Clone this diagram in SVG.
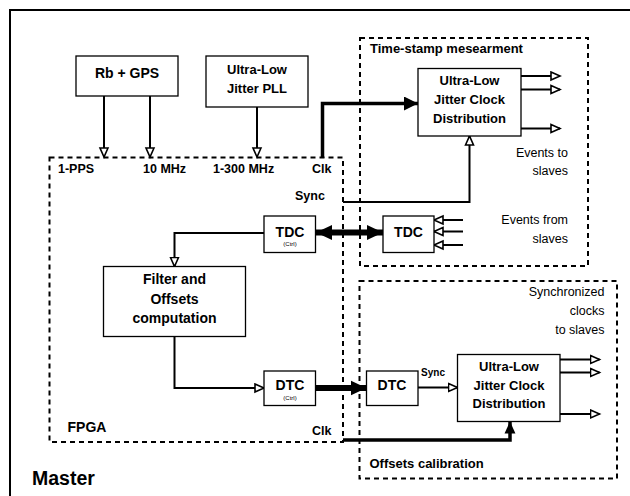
<svg xmlns="http://www.w3.org/2000/svg" width="630" height="496" viewBox="0 0 630 496">
  <style>
    .box { fill: #fff; stroke: #000; stroke-width: 1.3; }
    .zone { fill: none; stroke: #000; stroke-width: 2; stroke-dasharray: 5 4; }
    .wire { fill: none; stroke: #000; stroke-width: 2; }
    .thick { fill: none; stroke: #000; stroke-width: 3.5; }
    .bus { fill: none; stroke: #000; stroke-width: 6; }
    text { font-family: "Liberation Sans", Arial, Helvetica, sans-serif; fill: #000; }
    .b { font-weight: bold; }
    .c { text-anchor: middle; }
    .r { text-anchor: end; }
    .t13 { font-size: 13px; }
    .t14 { font-size: 14px; }
    .lbl { font-size: 12.5px; }
    .tiny { font-size: 6px; }
  </style>
  <defs>
    <marker id="open" markerUnits="userSpaceOnUse" markerWidth="12" markerHeight="12" viewBox="-1 -1 12 11" refX="9" refY="4" orient="auto">
      <path d="M0,0 L9,4 L0,8 Z" fill="#fff" stroke="#000" stroke-width="1.6"/>
    </marker>
    <marker id="solid" markerUnits="userSpaceOnUse" markerWidth="14" markerHeight="14" viewBox="0 0 12 12" refX="12" refY="6" orient="auto">
      <path d="M0,0 L12,6 L0,12 Z" fill="#000"/>
    </marker>
    <marker id="solidSmall" markerUnits="userSpaceOnUse" markerWidth="12" markerHeight="12" viewBox="0 0 11 10" refX="11" refY="5" orient="auto">
      <path d="M0,0 L11,5 L0,10 Z" fill="#000"/>
    </marker>
    <marker id="bigHead" markerUnits="userSpaceOnUse" markerWidth="16" markerHeight="16" viewBox="0 0 14 13" refX="14" refY="6.5" orient="auto-start-reverse">
      <path d="M0,0 L14,6.5 L0,13 Z" fill="#000"/>
    </marker>
  </defs>

  <!-- outer frame (only top and left edges fall inside the canvas) -->
  <path d="M10,520 V10 H640" fill="none" stroke="#000" stroke-width="2"/>

  <!-- dashed regions -->
  <g id="fpga">
    <rect class="zone" x="49.5" y="157.5" width="293.5" height="284.5"/>
    <text class="b lbl" x="58" y="173">1-PPS</text>
    <text class="b lbl" x="143" y="173">10 MHz</text>
    <text class="b lbl" x="213" y="173">1-300 MHz</text>
    <text class="b lbl" x="312" y="173">Clk</text>
    <text class="b lbl" x="295" y="200">Sync</text>
    <text class="b t14" x="67.5" y="431.5">FPGA</text>
    <text class="b lbl" x="312" y="434.5">Clk</text>
  </g>
  <g id="timestamp">
    <rect class="zone" x="360" y="38" width="228" height="228"/>
    <text class="b t13" x="370" y="53">Time-stamp mesearment</text>
    <text class="lbl r" x="568" y="156.5">Events to</text>
    <text class="lbl r" x="568" y="175">slaves</text>
    <text class="lbl r" x="568" y="223.5">Events from</text>
    <text class="lbl r" x="568" y="242.5">slaves</text>
  </g>
  <g id="calibration">
    <rect class="zone" x="359.5" y="281" width="257.5" height="197.5"/>
    <text class="b t13" x="369.5" y="468">Offsets calibration</text>
    <text class="lbl r" x="604.5" y="296">Synchronized</text>
    <text class="lbl r" x="604.5" y="315">clocks</text>
    <text class="lbl r" x="604.5" y="334">to slaves</text>
  </g>

  <!-- connectors -->
  <g id="connectors">
    <path class="wire" d="M104,96 V157" marker-end="url(#open)"/>
    <path class="wire" d="M150,96 V157" marker-end="url(#open)"/>
    <path class="wire" d="M257,107 V157" marker-end="url(#open)"/>
    <path class="thick" d="M322.5,158 V103.5 H418" marker-end="url(#solid)"/>
    <path class="wire" d="M343,202 H469.5 V136" marker-end="url(#open)"/>
    <path class="bus" d="M316,232.5 H383" marker-start="url(#bigHead)" marker-end="url(#bigHead)"/>
    <path class="wire" d="M463,220 H434" marker-end="url(#open)"/>
    <path class="wire" d="M463,231.5 H434" marker-end="url(#open)"/>
    <path class="wire" d="M463,245 H434" marker-end="url(#open)"/>
    <path class="wire" d="M264,233 H174.5 V266.5" marker-end="url(#open)"/>
    <path class="wire" d="M174.5,336.5 V388 H264" marker-end="url(#open)"/>
    <path class="bus" d="M315,388 H366.5" marker-end="url(#bigHead)"/>
    <path class="wire" d="M418,387.5 H457.5" marker-end="url(#open)"/>
    <path class="thick" d="M343,440 H510 V421.5" marker-end="url(#solidSmall)"/>
    <path class="wire" d="M521,76 H560" marker-end="url(#open)"/>
    <path class="wire" d="M521,89.5 H560" marker-end="url(#open)"/>
    <path class="wire" d="M521,128.5 H560" marker-end="url(#open)"/>
    <path class="wire" d="M560,359.5 H599.5" marker-end="url(#open)"/>
    <path class="wire" d="M560,372.5 H599.5" marker-end="url(#open)"/>
    <path class="wire" d="M560,414 H599.5" marker-end="url(#open)"/>
  </g>

  <!-- blocks -->
  <g id="rb-gps">
    <rect class="box" x="76" y="56" width="102" height="40"/>
    <text class="b t14 c" x="127" y="78">Rb + GPS</text>
  </g>
  <g id="pll">
    <rect class="box" x="206" y="56" width="102" height="51"/>
    <text class="b t13 c" x="257" y="74">Ultra-Low</text>
    <text class="b t13 c" x="257" y="92.5">Jitter PLL</text>
  </g>
  <g id="dist-top">
    <rect class="box" x="418" y="68.5" width="103" height="67.5"/>
    <text class="b t13 c" x="469.5" y="85">Ultra-Low</text>
    <text class="b t13 c" x="469.5" y="104">Jitter Clock</text>
    <text class="b t13 c" x="469.5" y="122.5">Distribution</text>
  </g>
  <g id="tdc-ctrl">
    <rect class="box" x="264" y="216" width="51.5" height="36.5"/>
    <text class="b t14 c" x="290" y="236.5">TDC</text>
    <text class="tiny c" x="290" y="245.5">(Ctrl)</text>
  </g>
  <g id="tdc">
    <rect class="box" x="383" y="216" width="51" height="36.5"/>
    <text class="b t14 c" x="408.5" y="236.5">TDC</text>
  </g>
  <g id="filter">
    <rect class="box" x="103.5" y="266.5" width="142" height="70"/>
    <text class="b t14 c" x="174.5" y="283.5">Filter and</text>
    <text class="b t14 c" x="174.5" y="303.5">Offsets</text>
    <text class="b t14 c" x="174.5" y="323">computation</text>
  </g>
  <g id="dtc-ctrl">
    <rect class="box" x="264" y="371" width="51.5" height="34.5"/>
    <text class="b t14 c" x="290" y="390">DTC</text>
    <text class="tiny c" x="290" y="400">(Ctrl)</text>
  </g>
  <g id="dtc">
    <rect class="box" x="366.5" y="371" width="51.5" height="34.5"/>
    <text class="b t14 c" x="392" y="390">DTC</text>
    <text class="b c" x="433" y="376" style="font-size:10px">Sync</text>
  </g>
  <g id="dist-bottom">
    <rect class="box" x="457.5" y="354.5" width="102.5" height="67"/>
    <text class="b t13 c" x="509" y="371">Ultra-Low</text>
    <text class="b t13 c" x="509" y="390">Jitter Clock</text>
    <text class="b t13 c" x="509" y="408">Distribution</text>
  </g>

  <text class="b" x="32" y="485" style="font-size:19.5px">Master</text>
</svg>
